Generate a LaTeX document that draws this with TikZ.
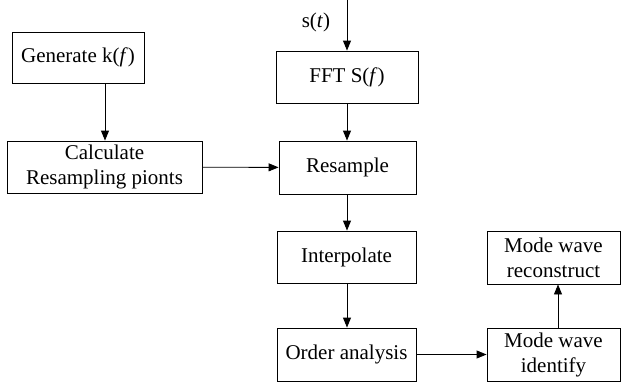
\documentclass[tikz,border=0pt]{standalone}
\usepackage{fontspec}
\setmainfont{Liberation Serif}
\usetikzlibrary{arrows.meta}
\begin{document}
\begin{tikzpicture}[x=1pt,y=-1pt,
  box/.style={draw,line width=0.9pt,font=\fontsize{21}{25}\selectfont,align=center,inner sep=0pt},
  arr/.style={line width=0.9pt,-{Triangle[length=10pt,width=8pt]}}]
\useasboundingbox (0,0) rectangle (621,383);
\node[box,minimum width=132,minimum height=51] (gen) at (78,57.5) {Generate k(\textit{f})};
\node[box,minimum width=195,minimum height=52] (calc) at (104.5,167) {Calculate\\Resampling pionts};
\node[box,minimum width=142,minimum height=52] (fft) at (347,77) {FFT S(\textit{f})};
\node[box,minimum width=137,minimum height=53] (res) at (347.5,167.5) {Resample};
\node[box,minimum width=139,minimum height=52] (int) at (346.5,257) {Interpolate};
\node[box,minimum width=139,minimum height=53] (ord) at (346.5,354.5) {Order analysis};
\node[box,minimum width=133,minimum height=53] (ide) at (553.5,354.5) {Mode wave\\identify};
\node[box,minimum width=133,minimum height=53] (rec) at (553.5,257.5) {Mode wave\\reconstruct};
\coordinate (top) at (347,0);
\node[font=\fontsize{21}{25}\selectfont] (s) at (316,22) {s(\textit{t})};
\draw[arr] (top) -- (top |- fft.north);
\draw[arr] (gen.south -| 105,0) -- (calc.north -| 105,0);
\draw[arr] (calc) -- (res);
\draw[arr] (fft.south -| 347,0) -- (res.north -| 347,0);
\draw[arr] (res.south -| 347,0) -- (int.north -| 347,0);
\draw[arr] (int.south -| 347,0) -- (ord.north -| 347,0);
\draw[arr] (ord) -- (ide);
\draw[arr] (ide.north -| 558,0) -- (rec.south -| 558,0);
\end{tikzpicture}
\end{document}
